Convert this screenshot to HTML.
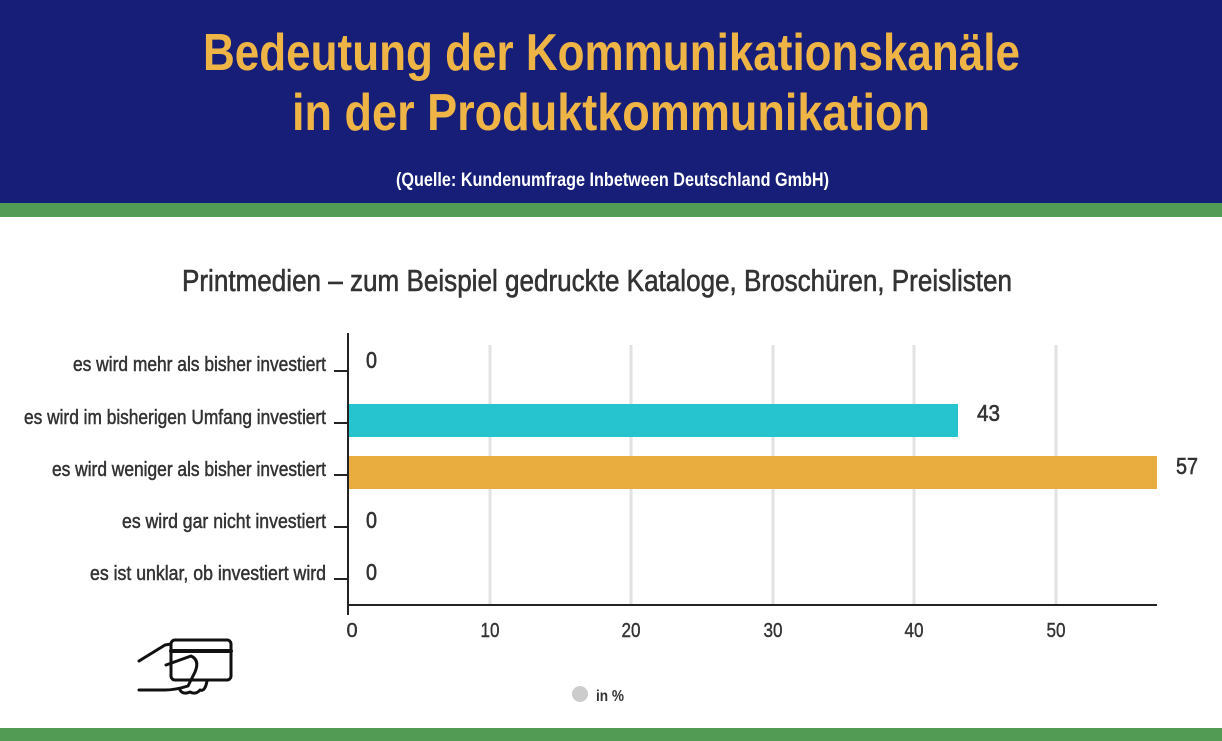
<!DOCTYPE html>
<html><head><meta charset="utf-8"><style>
html,body{margin:0;padding:0;background:#fff}
svg{display:block}
text{font-family:"Liberation Sans Narrow","Liberation Sans",sans-serif}
</style></head><body>
<svg width="1222" height="741" viewBox="0 0 1222 741" xmlns="http://www.w3.org/2000/svg">
<rect x="0" y="0" width="1222" height="203" fill="#161e77"/>
<rect x="0" y="203" width="1222" height="14" fill="#519b55"/>
<rect x="0" y="728" width="1222" height="13" fill="#519b55"/>
<text x="203" y="70" font-size="52" font-weight="bold" fill="#eeb546" textLength="817" lengthAdjust="spacingAndGlyphs">Bedeutung der Kommunikationskanäle</text>
<text x="292" y="130" font-size="52" font-weight="bold" fill="#eeb546" textLength="638" lengthAdjust="spacingAndGlyphs">in der Produktkommunikation</text>
<text x="396" y="186" font-size="19" font-weight="bold" fill="#fff" textLength="433" lengthAdjust="spacingAndGlyphs">(Quelle: Kundenumfrage Inbetween Deutschland GmbH)</text>
<text x="182" y="291" font-size="31" fill="#333" stroke="#333" stroke-width="0.6" textLength="830" lengthAdjust="spacingAndGlyphs">Printmedien – zum Beispiel gedruckte Kataloge, Broschüren, Preislisten</text>
<g stroke="#e2e2e2" stroke-width="3">
<line x1="490" y1="345" x2="490" y2="604"/><line x1="631" y1="345" x2="631" y2="604"/><line x1="773" y1="345" x2="773" y2="604"/><line x1="914" y1="345" x2="914" y2="604"/><line x1="1056" y1="345" x2="1056" y2="604"/>
</g>
<rect x="348" y="404" width="610" height="33" fill="#26c4cf"/>
<rect x="348" y="456" width="809" height="33" fill="#e9ac3f"/>
<g stroke="#222" stroke-width="2">
<line x1="348" y1="333" x2="348" y2="615"/>
<line x1="347" y1="605" x2="1157" y2="605"/>
<line x1="334" y1="371" x2="348" y2="371"/><line x1="334" y1="423" x2="348" y2="423"/><line x1="334" y1="475" x2="348" y2="475"/><line x1="334" y1="527" x2="348" y2="527"/><line x1="334" y1="579" x2="348" y2="579"/>
</g>
<g font-size="20" fill="#333" stroke="#333" stroke-width="0.5" text-anchor="end">
<text x="326" y="371" textLength="253" lengthAdjust="spacingAndGlyphs">es wird mehr als bisher investiert</text>
<text x="326" y="424" textLength="302" lengthAdjust="spacingAndGlyphs">es wird im bisherigen Umfang investiert</text>
<text x="326" y="476" textLength="274" lengthAdjust="spacingAndGlyphs">es wird weniger als bisher investiert</text>
<text x="326" y="528" textLength="204" lengthAdjust="spacingAndGlyphs">es wird gar nicht investiert</text>
<text x="326" y="580" textLength="236" lengthAdjust="spacingAndGlyphs">es ist unklar, ob investiert wird</text>
</g>
<g font-size="23" fill="#333" stroke="#333" stroke-width="0.6">
<text x="366" y="368" textLength="11" lengthAdjust="spacingAndGlyphs">0</text><text x="977" y="421" textLength="23" lengthAdjust="spacingAndGlyphs">43</text><text x="1176" y="474" textLength="22" lengthAdjust="spacingAndGlyphs">57</text><text x="366" y="528" textLength="11" lengthAdjust="spacingAndGlyphs">0</text><text x="366" y="580" textLength="11" lengthAdjust="spacingAndGlyphs">0</text>
</g>
<g font-size="20" fill="#333" stroke="#333" stroke-width="0.4" text-anchor="middle">
<text x="352" y="637">0</text><text x="490" y="637" textLength="19" lengthAdjust="spacingAndGlyphs">10</text><text x="631" y="637" textLength="19" lengthAdjust="spacingAndGlyphs">20</text><text x="773" y="637" textLength="19" lengthAdjust="spacingAndGlyphs">30</text><text x="914" y="637" textLength="19" lengthAdjust="spacingAndGlyphs">40</text><text x="1056" y="637" textLength="19" lengthAdjust="spacingAndGlyphs">50</text>
</g>
<circle cx="580" cy="694" r="8" fill="#ccc"/>
<text x="596" y="701" font-size="16" fill="#333" font-weight="bold" textLength="28" lengthAdjust="spacingAndGlyphs">in %</text>
<g fill="none" stroke="#111" stroke-width="3" stroke-linecap="round" stroke-linejoin="round">
<rect x="171" y="640" width="60" height="40" rx="4"/>
<line x1="171" y1="651" x2="231" y2="651" stroke-width="4"/>
<path d="M139 661 L165 645 L171 644"/>
<path d="M166 665 L191 656 Q200 660 195 672 L188 686 Q175 690 165 690 L139 690"/>
<path d="M180 690 Q183 695 190 692 Q196 695 200 690 Q205 692 207 681"/>
</g>
</svg>
</body></html>
